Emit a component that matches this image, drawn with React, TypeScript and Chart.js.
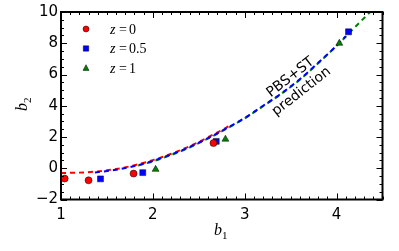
import React, { useEffect, useRef } from "react";
import { Chart, registerables } from "chart.js";

Chart.register(...registerables);

// ---- data ----
const xTicks = [1, 2, 3, 4];
const yTicks = [-2, 0, 2, 4, 6, 8, 10];
const xRange = [1, 4.5];
const yRange = [-2, 10];

const seriesLabels = ["0", "0.5", "1"];
const seriesColors = ["#ff0000", "#0000ff", "#008000"];

const z0X = [1.04, 1.3, 1.79, 2.66];
const z0Y = [-0.66, -0.77, -0.34, 1.61];
const z05X = [1.43, 1.89, 2.69, 4.13];
const z05Y = [-0.68, -0.28, 1.72, 8.73];
const z1X = [2.03, 2.79, 4.03];
const z1Y = [-0.07, 1.86, 8.0];

const predZ0X = [1.0, 1.2, 1.4, 1.6, 1.8, 2.0, 2.2, 2.4, 2.6, 2.8, 2.86];
const predZ0Y = [-0.3, -0.28, -0.2, -0.05, 0.19, 0.52, 0.93, 1.41, 1.98, 2.6, 2.8];
const predZ05X = [1.37, 1.6, 1.8, 2.0, 2.2, 2.4, 2.6, 2.8, 3.0, 3.2, 3.4, 3.6, 3.8, 4.0, 4.1];
const predZ05Y = [-0.27, -0.1, 0.14, 0.47, 0.88, 1.36, 1.93, 2.55, 3.22, 4.0, 4.8, 5.7, 6.75, 7.85, 8.45];
const predZ1X = [1.84, 2.0, 2.2, 2.4, 2.6, 2.8, 3.0, 3.2, 3.4, 3.6, 3.8, 4.0, 4.2, 4.4, 4.5];
const predZ1Y = [0.18, 0.44, 0.85, 1.33, 1.9, 2.52, 3.19, 3.97, 4.77, 5.67, 6.72, 7.83, 9.03, 10.2, 10.8];

const annotationLines = ["PBS+ST", "prediction"];

const zip = (xs: number[], ys: number[]) => xs.map((x, i) => ({ x, y: ys[i] }));

const X_MINOR = 0.1;
const Y_MINOR = 0.5;

function drawMarker(ctx: CanvasRenderingContext2D, kind: number, x: number, y: number, s: number, color: string) {
  ctx.save();
  ctx.fillStyle = color;
  ctx.strokeStyle = "#000";
  ctx.lineWidth = 0.5;
  ctx.beginPath();
  if (kind === 0) {
    ctx.arc(x, y, s, 0, Math.PI * 2);
  } else if (kind === 1) {
    ctx.rect(x - s, y - s, 2 * s, 2 * s);
  } else {
    ctx.moveTo(x, y - s * 1.1);
    ctx.lineTo(x + s, y + s * 0.8);
    ctx.lineTo(x - s, y + s * 0.8);
    ctx.closePath();
  }
  ctx.fill();
  ctx.stroke();
  ctx.restore();
}

const decorPlugin = {
  id: "decor",
  afterDatasetsDraw(chart: any) {
    const { ctx, chartArea: a, scales } = chart;
    const xs = scales.x;
    const ys = scales.y;
    ctx.save();
    ctx.strokeStyle = "#000";
    ctx.lineWidth = 1;
    const seg = (x1: number, y1: number, x2: number, y2: number) => {
      ctx.beginPath();
      ctx.moveTo(x1, y1);
      ctx.lineTo(x2, y2);
      ctx.stroke();
    };
    const nx = Math.round((xRange[1] - xRange[0]) / X_MINOR);
    for (let i = 0; i <= nx; i++) {
      const v = xRange[0] + i * X_MINOR;
      const major = xTicks.some((t) => Math.abs(t - v) < 1e-6);
      const len = major ? 6 : 3;
      const px = Math.round(xs.getPixelForValue(v)) + 0.5;
      seg(px, a.bottom, px, a.bottom - len);
      seg(px, a.top, px, a.top + len);
    }
    const ny = Math.round((yRange[1] - yRange[0]) / Y_MINOR);
    for (let i = 0; i <= ny; i++) {
      const v = yRange[0] + i * Y_MINOR;
      const major = yTicks.some((t) => Math.abs(t - v) < 1e-6);
      const len = major ? 6 : 3;
      const py = Math.round(ys.getPixelForValue(v)) + 0.5;
      seg(a.left, py, a.left + len, py);
      seg(a.right, py, a.right - len, py);
    }
    ctx.lineWidth = 2;
    ctx.strokeRect(a.left, a.top, a.right - a.left, a.bottom - a.top);
    ctx.restore();
  },
  afterDraw(chart: any) {
    const { ctx } = chart;
    ctx.save();
    // legend
    const rows = [29, 48.5, 68];
    seriesLabels.forEach((lab, i) => {
      const y = rows[i];
      drawMarker(ctx, i, 86, y, i === 0 ? 3 : i === 1 ? 2.7 : 3, seriesColors[i]);
      ctx.fillStyle = "#000";
      ctx.textBaseline = "alphabetic";
      ctx.textAlign = "left";
      ctx.font = 'italic 14px "Liberation Serif"';
      ctx.fillText("z", 110, y + 4.5);
      ctx.font = '14px "Liberation Serif"';
      ctx.fillText("=", 119, y + 4.5);
      ctx.fillText(lab, 129, y + 4.5);
    });
    // axis titles
    ctx.fillStyle = "#000";
    ctx.textAlign = "left";
    ctx.textBaseline = "alphabetic";
    ctx.font = 'italic 16px "Liberation Serif"';
    ctx.fillText("b", 214, 234.5);
    ctx.font = '11px "Liberation Serif"';
    ctx.fillText("1", 222, 238.5);
    ctx.save();
    ctx.translate(27, 111);
    ctx.rotate(-Math.PI / 2);
    ctx.font = 'italic 16px "Liberation Serif"';
    ctx.fillText("b", 0, 0);
    ctx.font = '11px "Liberation Serif"';
    ctx.fillText("2", 8, 4);
    ctx.restore();
    // annotation
    const ang = (-38 * Math.PI) / 180;
    const cx = 296;
    const cy = 84.5;
    const off = 9;
    const px = Math.sin(-ang);
    const py = Math.cos(-ang);
    ctx.font = '14px "DejaVu Sans"';
    ctx.textAlign = "center";
    ctx.textBaseline = "middle";
    annotationLines.forEach((t, i) => {
      const k = i === 0 ? -off : off;
      ctx.save();
      ctx.translate(cx + px * k, cy + py * k);
      ctx.rotate(ang);
      ctx.fillText(t, 0, 0);
      ctx.restore();
    });
    ctx.restore();
  },
};

export default function App() {
  const ref = useRef<HTMLCanvasElement | null>(null);
  useEffect(() => {
    if (!ref.current) return;
    const lineDs = (xs: number[], ys: number[], color: string, order: number) => ({
      type: "line" as const,
      data: zip(xs, ys),
      showLine: true,
      borderColor: color,
      backgroundColor: color,
      borderWidth: 2,
      borderDash: [5, 4],
      pointRadius: 0,
      cubicInterpolationMode: "monotone" as const,
      fill: false,
      order,
    });
    const ptDs = (xs: number[], ys: number[], color: string, style: string, r: number) => ({
      type: "scatter" as const,
      data: zip(xs, ys),
      pointStyle: style,
      pointRadius: r,
      backgroundColor: color,
      borderColor: "#000",
      borderWidth: 0.5,
      showLine: false,
      order: 0,
    });
    const chart = new Chart(ref.current, {
      type: "scatter",
      data: {
        datasets: [
          ptDs(z0X, z0Y, seriesColors[0], "circle", 3.5),
          ptDs(z05X, z05Y, seriesColors[1], "rect", 4.2),
          ptDs(z1X, z1Y, seriesColors[2], "triangle", 4),
          lineDs(predZ1X, predZ1Y, seriesColors[2], 3),
          lineDs(predZ05X, predZ05Y, seriesColors[1], 1),
          lineDs(predZ0X, predZ0Y, seriesColors[0], 2),
        ] as any,
      },
      options: {
        responsive: false,
        animation: false,
        events: [],
        layout: { padding: { left: 0, top: 11, right: 16.5, bottom: 0 } },
        plugins: { legend: { display: false }, tooltip: { enabled: false } },
        scales: {
          x: {
            type: "linear",
            min: xRange[0],
            max: xRange[1],
            grid: { display: false, drawTicks: false },
            border: { display: false },
            ticks: {
              color: "#000",
              padding: 7,
              maxRotation: 0,
              font: { family: "DejaVu Sans", size: 15 },
            },
            afterBuildTicks: (s: any) => {
              s.ticks = xTicks.map((v) => ({ value: v }));
            },
            afterFit: (s: any) => {
              s.height = 51.5;
            },
          },
          y: {
            type: "linear",
            min: yRange[0],
            max: yRange[1],
            grid: { display: false, drawTicks: false },
            border: { display: false },
            ticks: {
              color: "#000",
              padding: 3,
              font: { family: "DejaVu Sans", size: 15 },
              callback: (v: any) => String(v).replace("-", "\u2212"),
            },
            afterBuildTicks: (s: any) => {
              s.ticks = yTicks.map((v) => ({ value: v }));
            },
            afterFit: (s: any) => {
              s.width = 61;
            },
          },
        },
      } as any,
      plugins: [decorPlugin],
    });
    return () => chart.destroy();
  }, []);
  return (
    <div style={{ position: "fixed", left: 0, top: 0, width: 399, height: 251, background: "#fff" }}>
      <canvas ref={ref} width={399} height={251} style={{ width: 399, height: 251, display: "block" }} />
    </div>
  );
}
